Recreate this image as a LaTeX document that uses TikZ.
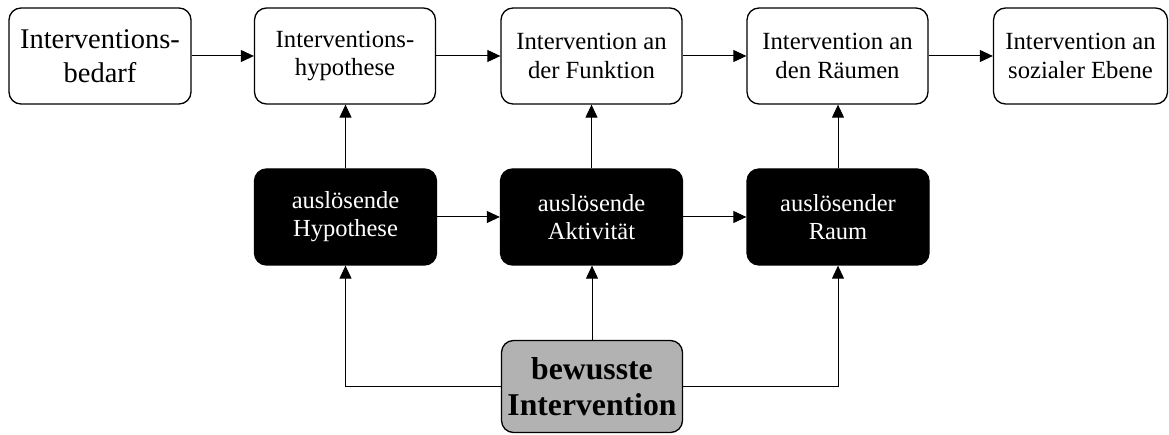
\documentclass[tikz,border=0pt]{standalone}
\usepackage{fontspec}
\setmainfont{Liberation Serif}
\usetikzlibrary{arrows.meta}
\begin{document}
\begin{tikzpicture}[x=1pt,y=-1pt,
  topbox/.style={draw=black,line width=1.3pt,rounded corners=12pt,fill=white,
    minimum width=181pt,minimum height=96pt,inner sep=0pt,align=center,
    font=\fontsize{24.7}{28.3}\selectfont},
  midbox/.style={draw=black,line width=1.3pt,rounded corners=12pt,fill=black,text=white,
    minimum width=182pt,minimum height=96pt,inner sep=0pt,align=center,
    font=\fontsize{24.5}{28}\selectfont},
  botbox/.style={draw=black,line width=1.3pt,rounded corners=12pt,fill=black!30,
    minimum width=181pt,minimum height=92pt,inner sep=0pt,align=center,
    font=\bfseries\fontsize{31.7}{35.5}\selectfont},
  conn/.style={draw=black,line width=1pt,-{Triangle[length=13pt,width=12pt]}},
  line/.style={draw=black,line width=1pt}]
\useasboundingbox (0,0) rectangle (1169,435);
\node[topbox,minimum width=182pt,font=\fontsize{28.5}{34}\selectfont] (t1) at (100,56) {Interventions-\\bedarf};
\node[topbox] (t2) at (345,56) {Interventions-\\hypothese};
\node[topbox] (t3) at (591.5,56) {Intervention an\\der Funktion};
\node[topbox] (t4) at (837.5,56) {Intervention an\\den Räumen};
\node[topbox,minimum width=174pt] (t5) at (1080.5,56) {Intervention an\\sozialer Ebene};
\node[midbox] (m1) at (345.5,217) {auslösende\\Hypothese};
\node[midbox] (m2) at (591.5,217) {auslösende\\Aktivität};
\node[midbox] (m3) at (838,217) {auslösender\\Raum};
\node[botbox] (b) at (592,386.5) {bewusste\\Intervention};
\draw[conn] (t1.east) -- (t2.west);
\draw[conn] (t2.east) -- (t3.west);
\draw[conn] (t3.east) -- (t4.west);
\draw[conn] (t4.east) -- (t5.west);
\draw[conn] (m1.east) -- (m2.west);
\draw[conn] (m2.east) -- (m3.west);
\draw[conn] (m1.north) -- (m1.north |- t2.south);
\draw[conn] (m2.north) -- (m2.north |- t3.south);
\draw[conn] (m3.north) -- (m3.north |- t4.south);
\draw[conn] (b.north) -- (b.north |- m2.south);
\draw[conn] (b.west) -| (m1.south);
\draw[conn] (b.east) -| (m3.south);
\end{tikzpicture}
\end{document}
